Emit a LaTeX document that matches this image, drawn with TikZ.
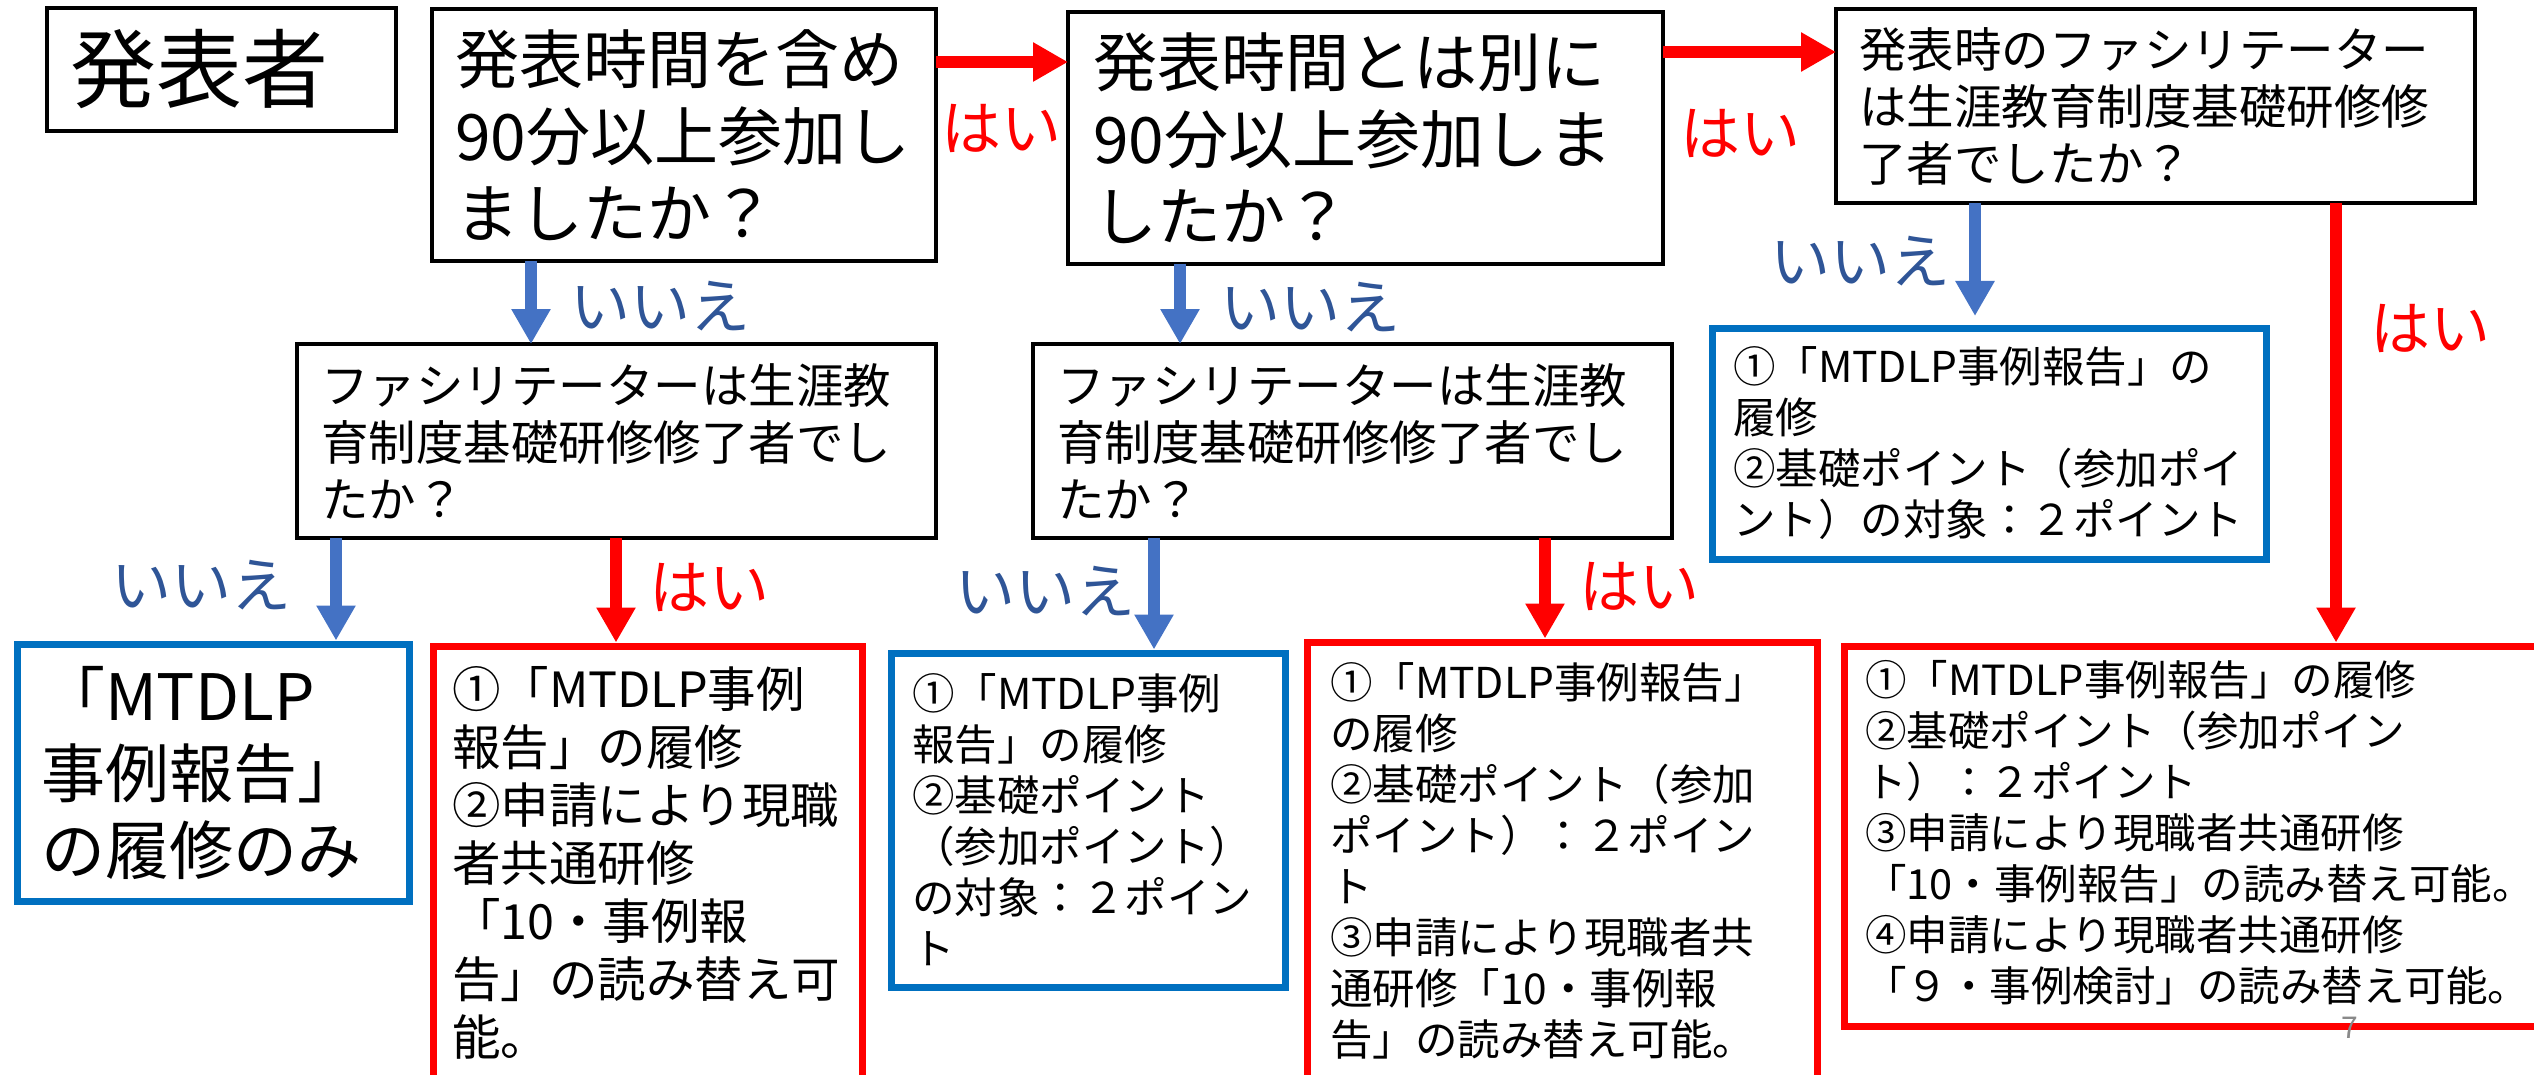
\documentclass[tikz,border=0pt]{standalone}
\usepackage{fontspec}
\setmainfont{Noto Sans CJK JP}
\usetikzlibrary{arrows.meta,calc}
\definecolor{bxblue}{HTML}{0070C0}
\definecolor{arblue}{HTML}{4472C4}
\definecolor{lbblue}{HTML}{2F5597}
\definecolor{pred}{HTML}{FF0000}
\definecolor{pgnum}{HTML}{898989}
\tikzset{
  boxbase/.style={anchor=north west, align=left, inner ysep=0pt, outer sep=0pt},
  qbox/.style={boxbase, draw=black, line width=3.5pt},
  bluebox/.style={boxbase, draw=bxblue, line width=7pt},
  redbox/.style={boxbase, draw=pred, line width=7pt},
  yesarrow/.style={draw=pred, line width=12pt, -{Triangle[length=35pt,width=37pt]}},
  noarrow/.style={draw=arblue, line width=12pt, -{Triangle[length=35pt,width=37pt]}},
  yeslabel/.style={text=pred, font=\fontsize{60}{72}\selectfont, inner sep=0pt},
  nolabel/.style={text=lbblue, font=\fontsize{60}{72}\selectfont, inner sep=0pt},
  big/.style={font=\fontsize{64}{77}\selectfont},
  mid/.style={font=\fontsize{47.5}{57}\selectfont},
  small/.style={font=\fontsize{42.5}{51}\selectfont},
}
\begin{document}
\begin{tikzpicture}[x=1pt,y=-1pt]
\fill[white] (0,0) rectangle (2534,1075);
\clip (0,0) rectangle (2534,1075);

% top row
\node[qbox, minimum height=123pt, text width=303pt, inner xsep=23pt, font=\fontsize{86}{100}\selectfont] (presenter) at (47,8) {発表者};
\node[qbox, big, minimum height=252pt, text width=458pt, inner xsep=23pt] (q1) at (432,9) {発表時間を含め\\90分以上参加し\\ましたか？};
\node[qbox, big, minimum height=252pt, text width=545pt, inner xsep=25pt] (q2) at (1068,12) {発表時間とは別に\\90分以上参加しま\\したか？};
\node[qbox, mid, minimum height=194pt, text width=593pt, inner xsep=23pt] (q3) at (1836,9) {発表時のファシリテーター\\は生涯教育制度基礎研修修\\了者でしたか？};

% second row
\node[qbox, mid, minimum height=194pt, text width=591pt, inner xsep=24pt] (f1) at (297,344) {ファシリテーターは生涯教\\育制度基礎研修修了者でし\\たか？};
\node[qbox, mid, minimum height=194pt, text width=591pt, inner xsep=24pt] (f2) at (1033,344) {ファシリテーターは生涯教\\育制度基礎研修修了者でし\\たか？};
\node[bluebox, small, minimum height=231pt, text width=512pt, inner xsep=21pt] (r3n) at (1712,328) {①「MTDLP事例報告」の\\履修\\②基礎ポイント（参加ポイ\\ント）の対象：２ポイント};

% bottom row
\node[bluebox, big, minimum height=257pt, text width=344pt, inner xsep=24pt] (r1n) at (17,644) {「MTDLP\\事例報告」\\の履修のみ};
\node[redbox, font=\fontsize{48.5}{58}\selectfont, minimum height=434pt, text width=391pt, inner xsep=19pt] (r1y) at (433,646) {①「MTDLP事例\\報告」の履修\\②申請により現職\\者共通研修\\「10・事例報\\告」の読み替え可\\能。};
\node[bluebox, small, minimum height=334pt, text width=352pt, inner xsep=21pt] (r2n) at (891,653) {①「MTDLP事例\\報告」の履修\\②基礎ポイント\\（参加ポイント）\\の対象：２ポイン\\ト};
\node[redbox, small, minimum height=438pt, text width=464pt, inner xsep=23pt] (r2y) at (1307,642) {①「MTDLP事例報告」\\の履修\\②基礎ポイント（参加\\ポイント）：２ポイン\\ト\\③申請により現職者共\\通研修「10・事例報\\告」の読み替え可能。};
\node[redbox, minimum width=720pt, minimum height=380pt] (r3y) at (1844,646) {};
\node[font=\fontsize{41.5}{51}\selectfont, align=left, anchor=west, inner sep=0pt] (r3ytxt) at ($(r3y.west)+(21,-3)$) {①「MTDLP事例報告」の履修\\②基礎ポイント（参加ポイン\\ト）：２ポイント\\③申請により現職者共通研修\\「10・事例報告」の読み替え可能。\\④申請により現職者共通研修\\「９・事例検討」の読み替え可能。};

% connector anchor points
\coordinate (q1r) at ($(q1.north east)+(0,53)$);
\coordinate (q2r) at ($(q2.north east)+(0,40)$);
\coordinate (q1d) at ($(q1.south west)+(99,0)$);
\coordinate (q2d) at ($(q2.south west)+(112,0)$);
\coordinate (q3n) at ($(q3.south west)+(139,0)$);
\coordinate (q3y) at ($(q3.south west)+(500,0)$);
\coordinate (f1n) at ($(f1.south west)+(39,0)$);
\coordinate (f1y) at ($(f1.south west)+(319,0)$);
\coordinate (f2n) at ($(f2.south west)+(121,0)$);
\coordinate (f2y) at ($(f2.south west)+(512,0)$);

% connectors
\draw[yesarrow] (q1r) -- (q1r -| q2.west);
\draw[yesarrow] (q2r) -- (q2r -| q3.west);
\draw[noarrow] (q1d) -- (q1d |- f1.north);
\draw[noarrow] (q2d) -- (q2d |- f2.north);
\draw[noarrow] (q3n) -- ($(q3n |- r3n.north)+(0,-12)$);
\draw[yesarrow, shorten >=3.5pt] (q3y) -- (q3y |- r3y.north);
\draw[noarrow, shorten >=3.5pt] (f1n) -- (f1n |- r1n.north);
\draw[yesarrow, shorten >=3.5pt] (f1y) -- (f1y |- r1y.north);
\draw[noarrow, shorten >=3.5pt] (f2n) -- (f2n |- r2n.north);
\draw[yesarrow, shorten >=3.5pt] (f2y) -- (f2y |- r2y.north);

% labels
\node[yeslabel] (y1) at (1001,128) {はい};
\node[yeslabel] (y2) at (1740,133) {はい};
\node[nolabel] (n1) at (660,306) {いいえ};
\node[nolabel] (n2) at (1310,307) {いいえ};
\node[nolabel] (n3) at (1860,261) {いいえ};
\node[yeslabel] (y3) at (2430,328) {はい};
\node[nolabel] (n4) at (201,585) {いいえ};
\node[yeslabel] (y4) at (709,587) {はい};
\node[nolabel] (n5) at (1045,591) {いいえ};
\node[yeslabel] (y5) at (1639,586) {はい};

\node[text=pgnum, font=\fontsize{30}{36}\selectfont, inner sep=0pt] (pg) at (2350,1028) {7};
\end{tikzpicture}
\end{document}
